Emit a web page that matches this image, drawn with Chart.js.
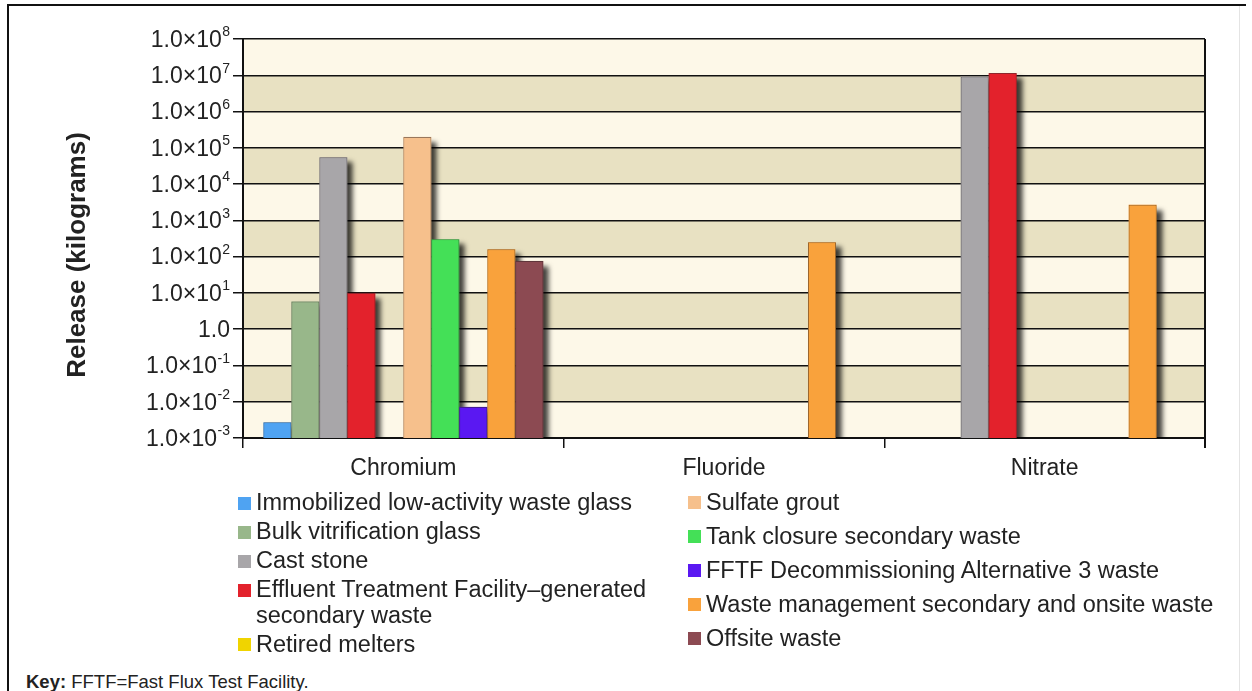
<!DOCTYPE html>
<html>
<head>
<meta charset="utf-8">
<title>Release by waste form</title>
<script src="https://cdn.jsdelivr.net/npm/chart.js@4.4.1/dist/chart.umd.min.js"></script>
<style>
  body { margin: 0; background: #fff; font-family: "Liberation Sans", Arial, sans-serif; color: #222; }
  #page { position: absolute; left: 0; top: 0; width: 1252px; height: 691px; overflow: hidden; }
  #chartBox { position: absolute; left: 0; top: 0; width: 1252px; height: 500px; }
  .frame-top { position: absolute; left: 8px; top: 4px; width: 1238px; height: 2px; background: #111; }
  .frame-left { position: absolute; left: 7px; top: 4px; width: 2px; height: 700px; background: #111; }
  .frame-right { position: absolute; left: 1239px; top: 6px; width: 1px; height: 700px; background: #e4e4e4; }
  .legend-col { position: absolute; font-size: 23.5px; color: #222; }
  .legend-item { display: flex; align-items: flex-start; }
  .legend-item .sw { width: 13px; height: 13px; margin-top: 6.5px; margin-right: 5px; flex: none; }
  #legendLeft { left: 238px; top: 490px; width: 430px; }
  #legendLeft .legend-item { line-height: 25.5px; margin-bottom: 3.5px; }
  #legendRight { left: 688px; top: 489px; width: 560px; }
  #legendRight .legend-item { line-height: 26px; margin-bottom: 8px; }
  #key { position: absolute; left: 26px; top: 671px; font-size: 18.5px; color: #222; }
</style>
</head>
<body>
<div id="page">
  <div id="chartBox"><canvas id="releaseChart"></canvas></div>
  <div class="frame-top"></div>
  <div class="frame-left"></div>
  <div class="frame-right"></div>
  <div class="legend-col" id="legendLeft"></div>
  <div class="legend-col" id="legendRight"></div>
  <div id="key"><b>Key:</b> FFTF=Fast Flux Test Facility.</div>
</div>
<script>
// categories on the x axis
const categories = ['Chromium', 'Fluoride', 'Nitrate'];

// release in kilograms, one array per waste form (null = no bar)
const immobilizedLawGlass = [2.7e-3, null, null];
const bulkVitrificationGlass = [5.8, null, null];
const castStone = [5.5e4, null, 9.3e6];
const etfSecondaryWaste = [10, null, 1.15e7];
const retiredMelters = [null, null, null];
const sulfateGrout = [2.0e5, null, null];
const tankClosureSecondary = [3.0e2, null, null];
const fftfAlt3Waste = [7.2e-3, null, null];
const wasteMgmtSecondaryOnsite = [1.6e2, 2.5e2, 2.7e3];
const offsiteWaste = [76, null, null];

const seriesNames = [
    'Immobilized low-activity waste glass',
    'Bulk vitrification glass',
    'Cast stone',
    'Effluent Treatment Facility\u2013generated secondary waste',
    'Retired melters',
    'Sulfate grout',
    'Tank closure secondary waste',
    'FFTF Decommissioning Alternative 3 waste',
    'Waste management secondary and onsite waste',
    'Offsite waste'
];
const seriesValues = [
    immobilizedLawGlass, bulkVitrificationGlass, castStone, etfSecondaryWaste, retiredMelters,
    sulfateGrout, tankClosureSecondary, fftfAlt3Waste, wasteMgmtSecondaryOnsite, offsiteWaste
];
const seriesColors = [
    '#4fa3f2', '#98b78a', '#a8a6a9', '#e3222c', '#f0d400',
    '#f6c08c', '#44e057', '#5a18f2', '#f9a23c', '#8c4a52'
];

// y axis (log) ticks and their labels: [mantissa part, exponent]
const yTickValues = [1e-3, 1e-2, 1e-1, 1, 1e1, 1e2, 1e3, 1e4, 1e5, 1e6, 1e7, 1e8];
const yTickLabels = [
    ['1.0\u00d710', '-3'], ['1.0\u00d710', '-2'], ['1.0\u00d710', '-1'], ['1.0', ''],
    ['1.0\u00d710', '1'], ['1.0\u00d710', '2'], ['1.0\u00d710', '3'], ['1.0\u00d710', '4'],
    ['1.0\u00d710', '5'], ['1.0\u00d710', '6'], ['1.0\u00d710', '7'], ['1.0\u00d710', '8']
];
const yAxisTitle = 'Release (kilograms)';

const fontFamily = '"Liberation Sans", Arial, sans-serif';

// stripes, bar shadows, right border, y labels and y title
const decorations = {
    id: 'decorations',
    beforeDraw(chart) {
        const { ctx, chartArea: a, scales: { y } } = chart;
        ctx.save();
        for (let i = 0; i < yTickValues.length - 1; i++) {
            const top = y.getPixelForValue(yTickValues[i + 1]);
            const bottom = y.getPixelForValue(yTickValues[i]);
            ctx.fillStyle = i % 2 === 0 ? '#fdf8e8' : '#e8e1c2';
            ctx.fillRect(a.left, top, a.right - a.left, bottom - top);
        }
        ctx.restore();
    },
    beforeDatasetsDraw(chart) {
        const { ctx, chartArea: a } = chart;
        ctx.save();
        ctx.beginPath();
        ctx.rect(a.left, a.top, a.right - a.left, a.bottom - a.top);
        ctx.clip();
        ctx.shadowColor = 'rgba(0,0,0,0.75)';
        ctx.shadowBlur = 5;
        ctx.shadowOffsetX = 6;
        ctx.shadowOffsetY = 5;
        chart.data.datasets.forEach((ds, i) => {
            chart.getDatasetMeta(i).data.forEach((bar, j) => {
                if (ds.data[j] == null) return;
                ctx.fillStyle = ds.backgroundColor;
                ctx.fillRect(bar.x - bar.width / 2, bar.y, bar.width, bar.base - bar.y);
            });
        });
        ctx.restore();
    },
    afterDraw(chart) {
        const { ctx, chartArea: a, scales: { y } } = chart;
        ctx.save();
        // right border of the plot
        ctx.strokeStyle = '#111';
        ctx.lineWidth = 2;
        ctx.beginPath();
        ctx.moveTo(a.right, a.top);
        ctx.lineTo(a.right, a.bottom + 10);
        ctx.stroke();

        // y tick labels with raised exponents
        ctx.fillStyle = '#222';
        ctx.textBaseline = 'middle';
        ctx.textAlign = 'right';
        yTickValues.forEach((v, i) => {
            const py = y.getPixelForValue(v) + 1.5;
            const [base, exp] = yTickLabels[i];
            let xr = a.left - 13;
            if (exp) {
                ctx.font = '14px ' + fontFamily;
                ctx.fillText(exp, xr, py - 8);
                xr -= ctx.measureText(exp).width + 0.5;
            }
            ctx.font = '23px ' + fontFamily;
            ctx.fillText(base, xr, py);
        });

        // y axis title
        ctx.translate(78, 255);
        ctx.rotate(-Math.PI / 2);
        ctx.textAlign = 'center';
        ctx.font = 'bold 26px ' + fontFamily;
        ctx.fillText(yAxisTitle, 0, 0);
        ctx.restore();
    }
};

const ctx = document.getElementById('releaseChart').getContext('2d');
const releaseChart = new Chart(ctx, {
    type: 'bar',
    data: {
        labels: categories,
        datasets: seriesNames.map((name, i) => ({
            label: name,
            data: seriesValues[i],
            backgroundColor: seriesColors[i],
            borderColor: 'rgba(40,30,30,0.45)',
            borderWidth: 1,
            barPercentage: 1.0,
            categoryPercentage: 0.873
        }))
    },
    options: {
        responsive: true,
        maintainAspectRatio: false,
        animation: false,
        layout: { padding: { left: 0, top: 39, right: 47, bottom: 0 } },
        plugins: {
            legend: { display: false },
            tooltip: { enabled: false }
        },
        scales: {
            x: {
                grid: { offset: true, drawOnChartArea: false, drawTicks: true, tickLength: 10, color: '#111', lineWidth: 1.5 },
                border: { color: '#111', width: 2 },
                ticks: { color: '#222', font: { size: 23, family: fontFamily }, padding: 7 },
                afterFit(scale) { scale.height = 62; }
            },
            y: {
                type: 'logarithmic',
                min: 1e-3,
                max: 1e8,
                grid: { color: '#111', lineWidth: 1.5, drawTicks: true, tickLength: 10 },
                border: { color: '#111', width: 2 },
                ticks: { display: false },
                afterBuildTicks(scale) { scale.ticks = yTickValues.map(v => ({ value: v })); },
                afterFit(scale) { scale.width = 243; }
            }
        }
    },
    plugins: [decorations]
});

// HTML legend in two columns, built from the series arrays
function buildLegend(el, from, to) {
    for (let i = from; i < to; i++) {
        const item = document.createElement('div');
        item.className = 'legend-item';
        item.innerHTML = `<span class="sw" style="background:${seriesColors[i]}"></span><span>${seriesNames[i]}</span>`;
        el.appendChild(item);
    }
}
buildLegend(document.getElementById('legendLeft'), 0, 5);
buildLegend(document.getElementById('legendRight'), 5, 10);
</script>
</body>
</html>
